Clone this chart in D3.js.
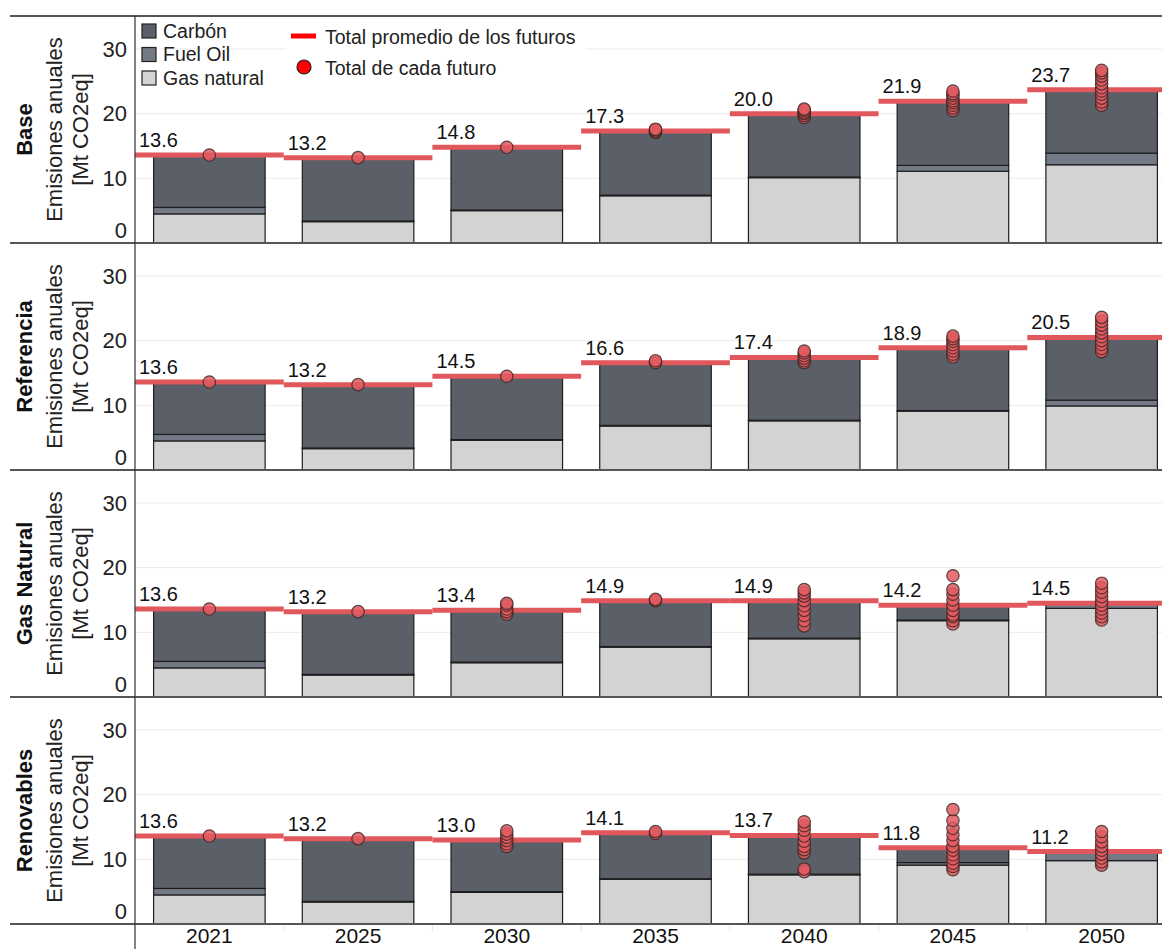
<!DOCTYPE html>
<html>
<head>
<meta charset="utf-8">
<script src="https://cdn.jsdelivr.net/npm/d3@7"></script>
<style>
body{margin:0;background:#fff;}
svg{display:block;font-family:"Liberation Sans",Arial,sans-serif;}
</style>
</head>
<body>
<svg id="chart" width="1162" height="949"></svg>
<script>
// categories
var years = ["2021","2025","2030","2035","2040","2045","2050"];
var escenarios = ["Base","Referencia","Gas Natural","Renovables"];
var yTicks = [0,10,20,30];
var fuentes = ["Carbón","Fuel Oil","Gas natural"];

// one row per escenario, one value per year [Mt CO2eq]
var gasNatural = [
	[4.5,3.3,5.0,7.3,10.1,11.1,12.1],
	[4.5,3.3,4.6,6.8,7.6,9.1,9.9],
	[4.5,3.4,5.3,7.7,9.0,11.8,13.7],
	[4.5,3.4,4.9,6.9,7.6,9.1,9.8]
];
var fuelOil = [
	[1.0,0.1,0.1,0.1,0.1,0.9,1.8],
	[1.0,0.1,0.1,0.1,0.1,0.1,0.9],
	[1.0,0.1,0.1,0.1,0.1,0.1,0.7],
	[1.0,0.1,0.1,0.1,0.1,0.4,1.4]
];
var carbon = [
	[8.1,9.8,9.7,9.9,9.8,9.9,9.8],
	[8.1,9.8,9.8,9.7,9.7,9.7,9.7],
	[8.1,9.7,8.0,7.1,5.8,2.3,0.1],
	[8.1,9.7,8.0,7.1,6.0,2.3,0.0]
];
// total promedio de los futuros
var promedio = [
	[13.6,13.2,14.8,17.3,20.0,21.9,23.7],
	[13.6,13.2,14.5,16.6,17.4,18.9,20.5],
	[13.6,13.2,13.4,14.9,14.9,14.2,14.5],
	[13.6,13.2,13.0,14.1,13.7,11.8,11.2]
];
// total de cada futuro
var futuros = [
	[[13.6],[13.2],[14.8],[17.1,17.3,17.5,17.6],
	 [19.4,19.7,20.0,20.2,20.5,20.7],
	 [20.5,20.9,21.3,21.7,22.0,22.4,22.8,23.1,23.5],
	 [21.3,21.8,22.4,23.0,23.5,24.0,24.6,25.2,25.8,26.3,26.7]],
	[[13.6],[13.2],[14.5],[16.6,16.9],
	 [16.6,16.9,17.3,17.7,18.1,18.4],
	 [17.5,17.9,18.4,18.9,19.4,19.9,20.3,20.7],
	 [18.3,18.8,19.4,20.0,20.6,21.2,21.8,22.4,23.0,23.6]],
	[[13.6],[13.2],[12.8,13.2,13.6,14.2,14.5],[14.9,15.1],
	 [11.0,11.8,12.6,13.4,14.1,14.9,15.6,16.1,16.6],
	 [11.3,11.8,12.4,12.7,13.4,14.2,15.0,15.9,16.6,18.75],
	 [11.9,12.4,13.0,13.6,14.2,14.8,15.5,16.2,16.9,17.6]],
	[[13.6],[13.2],[12.0,12.4,12.9,13.4,13.9,14.4],[14.0,14.3],
	 [8.1,8.5,11.0,11.5,12.0,12.8,13.6,14.5,15.2,15.8],
	 [8.4,8.9,9.4,10.1,10.7,11.4,12.0,12.9,13.8,14.8,16.0,17.7],
	 [9.1,9.6,10.2,10.8,11.4,12.0,12.7,13.5,14.3]]
];

var colores = {carbon:"#5b5f67", fuel:"#747a85", gas:"#d3d3d3",
	promedio:"#e0575c", futuro:"#e05a5f", legendRed:"#ff0000"};

var svg = d3.select("#chart");
var W = +svg.attr("width"), H = +svg.attr("height");
var left = 135, panelTop = 16, panelH = 227;

var x = d3.scaleBand()
	.domain(years)
	.range([left, 1176])
	.paddingInner(0.25)
	.paddingOuter(0.125);
var step = x.step(), pad = (step - x.bandwidth()) / 2;

var stack = d3.stack().keys(["gas","fuel","carbon"]);
var fill = {gas:colores.gas, fuel:colores.fuel, carbon:colores.carbon};

escenarios.forEach(function(esc, i) {
	var top = panelTop + i*panelH;
	var y = d3.scaleLinear().domain([0, 35.1]).range([top + panelH, top]);
	var g = svg.append("g").attr("class", "panel");

	// grid
	g.selectAll(".grid").data(yTicks.slice(1)).enter().append("line")
		.attr("x1", left).attr("x2", W)
		.attr("y1", function(d){ return y(d); })
		.attr("y2", function(d){ return y(d); })
		.attr("stroke", "#ebebeb").attr("stroke-width", 1);

	// axis labels
	var ax = g.append("g")
		.attr("transform", "translate(" + (left - 8) + ",0)")
		.call(d3.axisLeft(y).tickValues(yTicks).tickSize(0).tickPadding(0));
	ax.select(".domain").remove();
	ax.selectAll(".tick text")
		.attr("font-size", 22).attr("fill", "#222")
		.attr("font-family", "Liberation Sans, Arial, sans-serif")
		.attr("dy", function(d){ return d === 0 ? "-0.27em" : "0.32em"; });

	// titles
	var cy = top + panelH/2;
	g.append("text").attr("transform", "translate(32," + cy + ") rotate(-90)")
		.attr("text-anchor", "middle").attr("font-size", 22).attr("font-weight", "bold")
		.attr("fill", "#111").text(esc);
	g.append("text").attr("transform", "translate(62," + cy + ") rotate(-90)")
		.attr("text-anchor", "middle").attr("font-size", 22)
		.attr("fill", "#222").text("Emisiones anuales");
	g.append("text").attr("transform", "translate(88," + cy + ") rotate(-90)")
		.attr("text-anchor", "middle").attr("font-size", 22)
		.attr("fill", "#222").text("[Mt CO2eq]");

	// stacked bars
	var rows = years.map(function(yr, j) {
		return {year: yr, gas: gasNatural[i][j], fuel: fuelOil[i][j], carbon: carbon[i][j]};
	});
	g.selectAll(".serie").data(stack(rows)).enter().append("g")
		.attr("fill", function(s){ return fill[s.key]; })
		.selectAll("rect").data(function(s){ return s; }).enter().append("rect")
		.attr("x", function(d){ return x(d.data.year); })
		.attr("width", x.bandwidth())
		.attr("y", function(d){ return y(d[1]); })
		.attr("height", function(d){ return y(d[0]) - y(d[1]); })
		.attr("stroke", "#1e1e1e").attr("stroke-width", 1.2);

	// promedio lines
	g.selectAll(".prom").data(years).enter().append("line")
		.attr("x1", function(d){ return x(d) - pad; })
		.attr("x2", function(d){ return x(d) + x.bandwidth() + pad; })
		.attr("y1", function(d, j){ return y(promedio[i][j]); })
		.attr("y2", function(d, j){ return y(promedio[i][j]); })
		.attr("stroke", colores.promedio).attr("stroke-width", 5);

	// futuros
	years.forEach(function(yr, j) {
		g.selectAll(null).data(futuros[i][j]).enter().append("circle")
			.attr("cx", x(yr) + x.bandwidth()/2)
			.attr("cy", function(d){ return y(d); })
			.attr("r", 6.2)
			.attr("fill", colores.futuro).attr("fill-opacity", 0.85)
			.attr("stroke", "#3a2626").attr("stroke-width", 1.2).attr("stroke-opacity", 0.8);
	});

	// value labels
	g.selectAll(".val").data(years).enter().append("text")
		.attr("x", function(d){ return x(d) - pad + 4; })
		.attr("y", function(d, j){ return y(promedio[i][j]) - 8; })
		.attr("font-size", 20).attr("fill", "#111")
		.text(function(d, j){ return d3.format(".1f")(promedio[i][j]); });
});

// frame lines
var frame = d3.range(escenarios.length + 1).map(function(k){ return panelTop + k*panelH; });
svg.selectAll(".sep").data(frame).enter().append("line")
	.attr("x1", 10).attr("x2", W)
	.attr("y1", function(d){ return d; }).attr("y2", function(d){ return d; })
	.attr("stroke", "#555").attr("stroke-width", 1.8);
svg.append("line").attr("x1", left).attr("x2", left)
	.attr("y1", panelTop).attr("y2", H)
	.attr("stroke", "#333").attr("stroke-width", 1.2);

// x axis
var bottom = panelTop + escenarios.length*panelH;
var xa = svg.append("g").attr("transform", "translate(0," + bottom + ")")
	.call(d3.axisBottom(x).tickSize(0).tickPadding(4));
xa.select(".domain").remove();
xa.selectAll(".tick text").attr("font-size", 21).attr("fill", "#111")
	.attr("font-family", "Liberation Sans, Arial, sans-serif").attr("dy", "0.7em");
svg.selectAll(".xtick").data(years.slice(1)).enter().append("line")
	.attr("x1", function(d){ return x(d) - pad; }).attr("x2", function(d){ return x(d) - pad; })
	.attr("y1", bottom + 1).attr("y2", bottom + 7)
	.attr("stroke", "#e4e4e4");

// legend
var leg = svg.append("g").attr("font-size", 19.5).attr("fill", "#222");
var legColors = [colores.carbon, colores.fuel, colores.gas];
fuentes.forEach(function(f, k) {
	var cyL = 31 + k*23.5;
	leg.append("rect").attr("x", 142).attr("y", cyL - 7).attr("width", 14).attr("height", 14)
		.attr("fill", legColors[k]).attr("stroke", "#222").attr("stroke-width", 1.2);
	leg.append("text").attr("x", 163).attr("y", cyL).attr("dy", "0.35em").text(f);
});
leg.append("rect").attr("x", 286).attr("y", 22).attr("width", 300).attr("height", 60).attr("fill", "#fff");
leg.append("line").attr("x1", 291).attr("x2", 316).attr("y1", 36).attr("y2", 36)
	.attr("stroke", colores.legendRed).attr("stroke-width", 5);
leg.append("text").attr("x", 325).attr("y", 37).attr("dy", "0.35em").text("Total promedio de los futuros");
leg.append("circle").attr("cx", 304).attr("cy", 67).attr("r", 7)
	.attr("fill", colores.legendRed).attr("stroke", "#222").attr("stroke-width", 1.2);
leg.append("text").attr("x", 325).attr("y", 68).attr("dy", "0.35em").text("Total de cada futuro");
</script>
</body>
</html>
